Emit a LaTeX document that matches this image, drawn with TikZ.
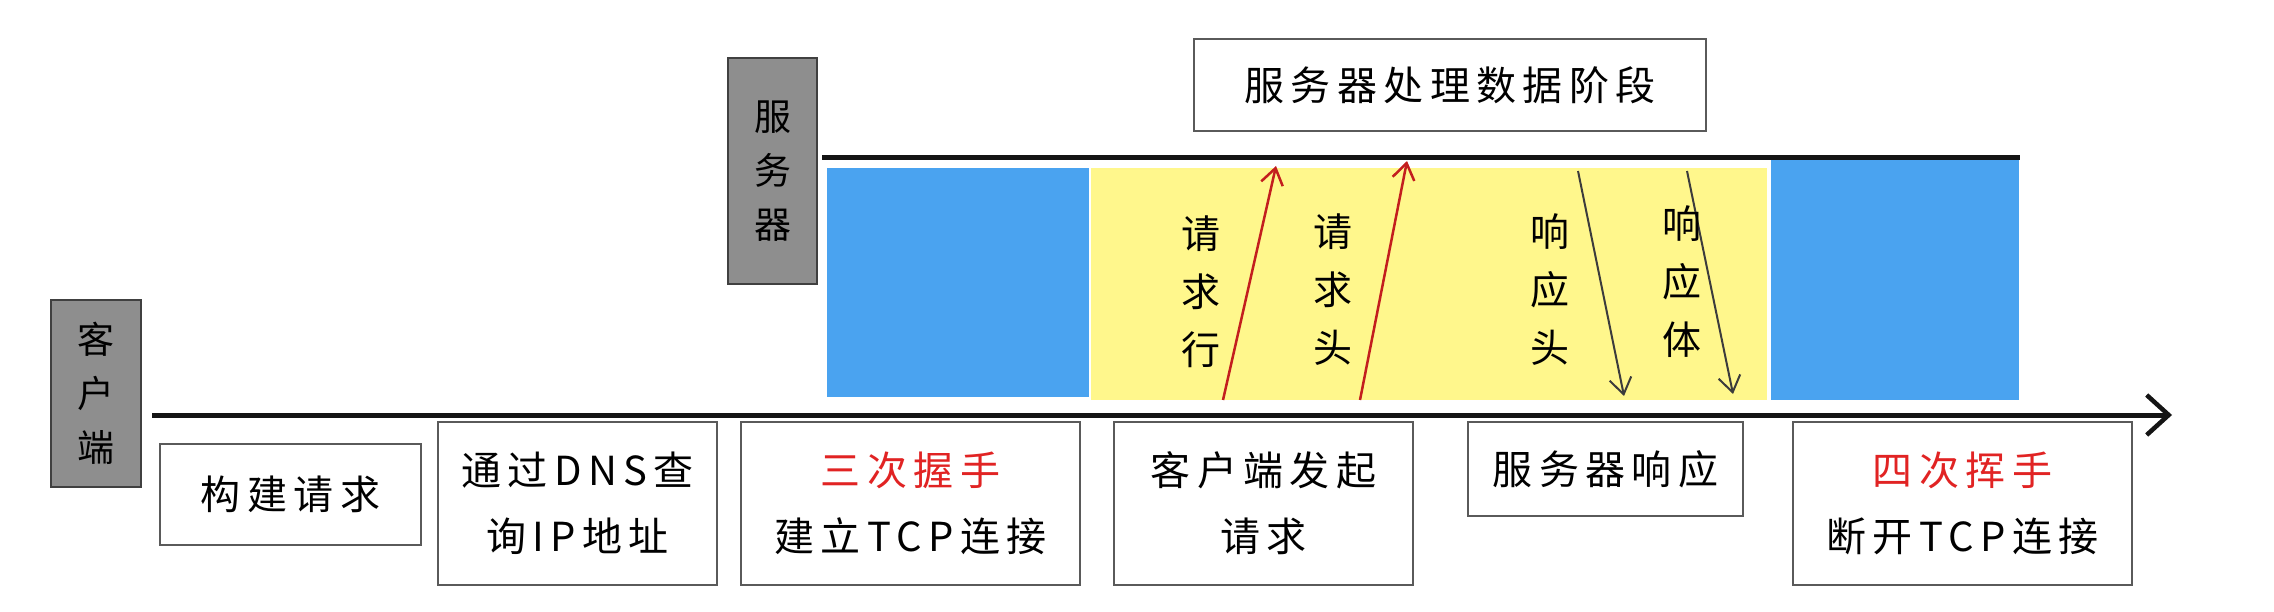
\documentclass[tikz,border=0pt]{standalone}
\usepackage{fontspec}
\setmainfont{Noto Sans CJK SC}[LetterSpace=16]
\usetikzlibrary{arrows.meta}
\definecolor{blk}{RGB}{20,20,20}
\definecolor{boxline}{RGB}{90,90,90}
\definecolor{greybox}{RGB}{142,142,142}
\definecolor{blueblk}{RGB}{74,163,240}
\definecolor{yellowblk}{RGB}{255,247,140}
\definecolor{redtxt}{RGB}{225,35,35}
\definecolor{redarrow}{RGB}{195,30,30}
\definecolor{darkarrow}{RGB}{60,60,60}
\tikzset{
  stagebox/.style={draw=boxline, line width=2pt, fill=white, inner sep=0pt, align=center,
    font=\fontsize{40}{66}\selectfont},
  rolebox/.style={draw=black!75, line width=2pt, fill=greybox, inner sep=0pt, align=center,
    font=\fontsize{37}{54}\selectfont},
  vlabel/.style={inner sep=0pt, align=center, font=\fontsize{39}{58}\selectfont},
  axis/.style={line width=5pt, blk},
  uparrow/.style={redarrow, line width=2.5pt, -{Straight Barb[length=16pt,width=22pt,line width=2.5pt]}},
  downarrow/.style={darkarrow, line width=2pt, -{Straight Barb[length=16pt,width=22pt,line width=2pt]}}
}
\begin{document}
\begin{tikzpicture}[x=1pt,y=-1pt]
\path[use as bounding box, fill=white] (0,0) rectangle (2274,612);
% coloured phases
\fill[blueblk] (827,168) rectangle (1089,397);
\fill[yellowblk] (1091,168) rectangle (1767,400);
\fill[blueblk] (1771,160) rectangle (2019,400);
% timelines
\coordinate (cstart) at (152,415);
\coordinate (cend) at (2172,415);
\coordinate (sstart) at (822,158);
\coordinate (send) at (2020,158);
\draw[axis] (sstart) -- (send);
\draw[axis, -{Straight Barb[length=22pt,width=40pt,line width=4.5pt]}] (cstart) -- (cend);
% role boxes
\node[rolebox, minimum width=90pt, minimum height=187pt] (client) at (96,393.5) {客\\户\\端};
\node[rolebox, minimum width=89pt, minimum height=226pt] (server) at (772.5,171) {服\\务\\器};
% stage boxes
\node[stagebox, minimum width=512pt, minimum height=92pt] (phase) at (1450,85) {服务器处理数据阶段};
\node[stagebox, minimum width=261pt, minimum height=101pt] (b1) at (290.5,494.5) {构建请求};
\node[stagebox, minimum width=279pt, minimum height=163pt] (b2) at (577.5,503.5) {通过DNS查\\询IP地址};
\node[stagebox, minimum width=339pt, minimum height=163pt] (b3) at (910.5,503.5) {\textcolor{redtxt}{三次握手}\\建立TCP连接};
\node[stagebox, minimum width=299pt, minimum height=163pt] (b4) at (1263.5,503.5) {客户端发起\\请求};
\node[stagebox, minimum width=275pt, minimum height=94pt] (b5) at (1605.5,469) {服务器响应};
\node[stagebox, minimum width=339pt, minimum height=163pt] (b6) at (1962.5,503.5) {\textcolor{redtxt}{四次挥手}\\断开TCP连接};
% message arrows
\coordinate (r1s) at (1223,400); \coordinate (r1e) at (1276,166);
\coordinate (r2s) at (1360,400); \coordinate (r2e) at (1407,161);
\coordinate (p1s) at (1578,171); \coordinate (p1e) at (1624,396);
\coordinate (p2s) at (1687,171); \coordinate (p2e) at (1733,394);
\draw[uparrow] (r1s) -- (r1e);
\draw[uparrow] (r2s) -- (r2e);
\draw[downarrow] (p1s) -- (p1e);
\draw[downarrow] (p2s) -- (p2e);
% message labels
\node[vlabel] (l1) at (1201,292) {请\\求\\行};
\node[vlabel] (l2) at (1333,290) {请\\求\\头};
\node[vlabel] (l3) at (1550,290) {响\\应\\头};
\node[vlabel] (l4) at (1682,282) {响\\应\\体};
\end{tikzpicture}
\end{document}
